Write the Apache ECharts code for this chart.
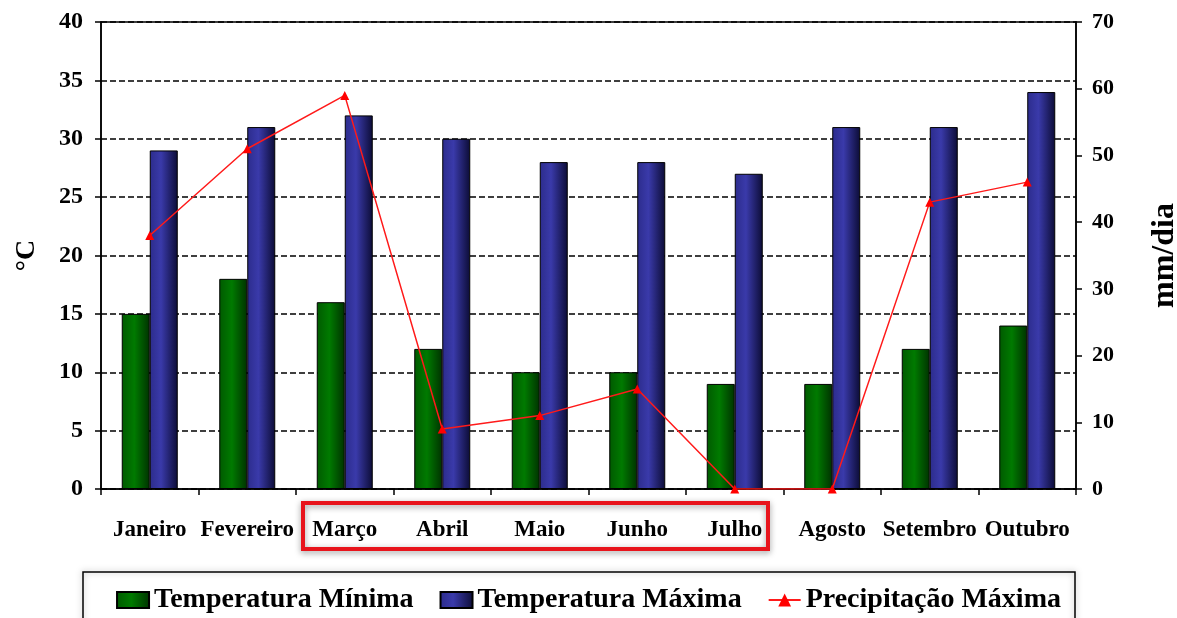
<!DOCTYPE html>
<html>
<head>
<meta charset="utf-8">
<script src="https://cdn.jsdelivr.net/npm/echarts@6/dist/echarts.min.js"></script>
<style>
  html, body { margin: 0; padding: 0; background: #fff; }
  #chart { width: 1177px; height: 618px; }
</style>
</head>
<body>
<div id="chart"></div>
<script>
const months = ['Janeiro', 'Fevereiro', 'Março', 'Abril', 'Maio', 'Junho', 'Julho', 'Agosto', 'Setembro', 'Outubro']
const tempMin = [15, 18, 16, 12, 10, 10, 9, 9, 12, 14]
const tempMax = [29, 31, 32, 30, 28, 28, 27, 31, 31, 34]
const precipMax = [38, 51, 59, 9, 11, 15, 0, 0, 43, 46]

const serif = '"Liberation Serif", "DejaVu Serif", serif'

const chart = echarts.init(document.getElementById('chart'))

const greenFill = new echarts.graphic.LinearGradient(0, 0, 1, 0, [
  { offset: 0, color: '#005a00' },
  { offset: 0.45, color: '#007a00' },
  { offset: 1, color: '#003200' },
])
const blueFill = new echarts.graphic.LinearGradient(0, 0, 1, 0, [
  { offset: 0, color: '#2c2c8c' },
  { offset: 0.4, color: '#3a3aaa' },
  { offset: 1, color: '#0c0c36' },
])

const option = {
  backgroundColor: '#fff',
  animation: false,
  grid: {
    left: 101,
    right: 101,
    top: 22,
    bottom: 129,
    outerBoundsMode: 'none',
    containLabel: false,
    show: true,
    borderColor: '#000',
    borderWidth: 1.5,
  },
  legend: {
    left: 'center',
    top: 581,
    itemWidth: 32,
    itemHeight: 16,
    itemGap: 26,
    textStyle: { fontFamily: serif, fontWeight: 'bold', fontSize: 28, color: '#000' },
    data: [
      { name: 'Temperatura Mínima', icon: 'rect' },
      { name: 'Temperatura Máxima', icon: 'rect' },
      'Precipitação Máxima',
    ],
  },
  graphic: [
    {
      type: 'rect',
      shape: { x: 83, y: 572, width: 992, height: 60 },
      style: { fill: 'none', stroke: '#000', lineWidth: 1.5, shadowBlur: 6, shadowColor: 'rgba(0,0,0,0.35)' },
      z: 0,
    },
    {
      type: 'rect',
      shape: { x: 303, y: 503, width: 465, height: 46 },
      style: { fill: 'none', stroke: '#e8141c', lineWidth: 4, shadowBlur: 6, shadowColor: 'rgba(0,0,0,0.4)', shadowOffsetY: 2 },
      z: 10,
    },
  ],
  xAxis: {
    type: 'category',
    data: months,
    axisLine: { lineStyle: { color: '#000', width: 1.5 } },
    axisTick: { show: true, length: 6, lineStyle: { color: '#000', width: 1.5 } },
    axisLabel: { color: '#000', fontFamily: serif, fontWeight: 'bold', fontSize: 23, margin: 30, interval: 0, hideOverlap: false },
  },
  yAxis: [
    {
      type: 'value',
      min: 0,
      max: 40,
      interval: 5,
      name: '°C',
      nameLocation: 'middle',
      nameRotate: 90,
      nameGap: 60,
      nameTextStyle: { color: '#000', fontFamily: serif, fontWeight: 'bold', fontSize: 28 },
      axisLine: { show: true, lineStyle: { color: '#000', width: 1.5 } },
      axisTick: { show: true, length: 6, lineStyle: { color: '#000', width: 1.5 } },
      axisLabel: { color: '#000', fontFamily: serif, fontWeight: 'bold', fontSize: 24, margin: 18 },
      splitLine: { show: true, lineStyle: { color: '#000', width: 1.5, type: [6, 3] } },
    },
    {
      type: 'value',
      min: 0,
      max: 70,
      interval: 10,
      name: 'mm/dia',
      nameLocation: 'middle',
      nameRotate: 90,
      nameGap: 73,
      nameTextStyle: { color: '#000', fontFamily: serif, fontWeight: 'bold', fontSize: 32 },
      axisLine: { show: true, lineStyle: { color: '#000', width: 1.5 } },
      axisTick: { show: true, length: 6, lineStyle: { color: '#000', width: 1.5 } },
      axisLabel: { color: '#000', fontFamily: serif, fontWeight: 'bold', fontSize: 22, margin: 16 },
      splitLine: { show: false },
    },
  ],
  series: [
    {
      name: 'Temperatura Mínima',
      type: 'bar',
      yAxisIndex: 0,
      barWidth: 28,
      barGap: '0%',
      itemStyle: { color: greenFill, borderColor: '#000', borderWidth: 1 },
      data: tempMin,
    },
    {
      name: 'Temperatura Máxima',
      type: 'bar',
      yAxisIndex: 0,
      barWidth: 28,
      barGap: '0%',
      itemStyle: { color: blueFill, borderColor: '#000', borderWidth: 1 },
      data: tempMax,
    },
    {
      name: 'Precipitação Máxima',
      type: 'line',
      yAxisIndex: 1,
      symbol: 'triangle',
      symbolSize: 9,
      lineStyle: { color: '#ff1a1a', width: 1.5 },
      itemStyle: { color: '#ff0000' },
      z: 5,
      data: precipMax,
    },
  ],
}

chart.setOption(option)
</script>
</body>
</html>
